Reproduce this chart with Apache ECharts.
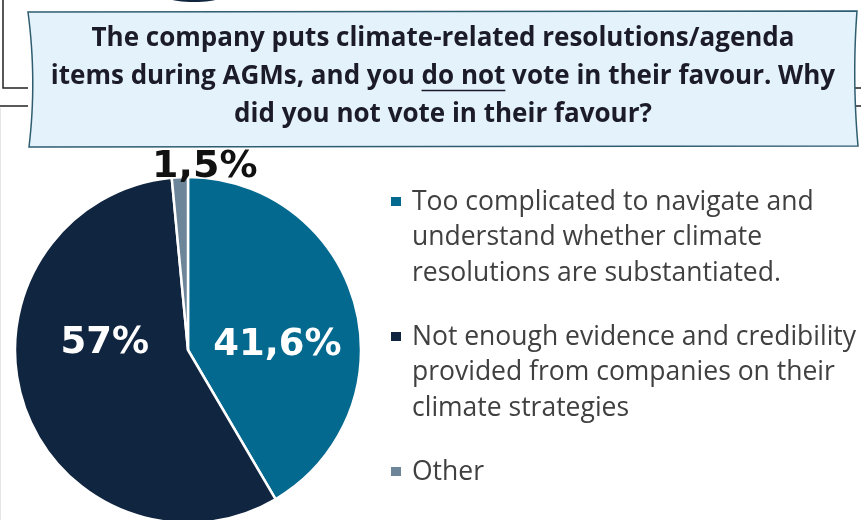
<!DOCTYPE html>
<html>
<head>
<meta charset="utf-8">
<script src="https://cdn.jsdelivr.net/npm/echarts@6/dist/echarts.min.js"></script>
<style>
  html, body { margin: 0; padding: 0; background: #ffffff; }
  #chart { width: 861px; height: 520px; }
</style>
</head>
<body>
<div id="chart"></div>
<script>
// Survey question shown in the banner (line 2 has the underlined "do not")
const questionLines = [
  'The company puts climate-related resolutions/agenda',
  'items during AGMs, and you do not vote in their favour. Why',
  'did you not vote in their favour?'
];
const emphasised = 'do not';

// Answer categories, their shares (%) and the legend wrapping
const categories = [
  'Too complicated to navigate and understand whether climate resolutions are substantiated.',
  'Not enough evidence and credibility provided from companies on their climate strategies',
  'Other'
];
const legendLines = [
  ['Too complicated to navigate and', 'understand whether climate', 'resolutions are substantiated.'],
  ['Not enough evidence and credibility', 'provided from companies on their', 'climate strategies'],
  ['Other']
];
const shares = [41.6, 57, 1.5];
const sliceColors = ['#03698f', '#10253f', '#6d8599'];

// Label placement per slice (inside labels are nudged, the tiny slice sits above the pie)
const labelPlacement = [
  { color: '#ffffff', fontSize: 37, offset: [3, 19] },
  { color: '#ffffff', fontSize: 37, offset: [2, -34] },
  { color: '#111111', fontSize: 38, offset: [21, -93] }
];

const chart = echarts.init(document.getElementById('chart'), null, { renderer: 'canvas' });

const titleFont = 'bold 26px "Open Sans", sans-serif';
const legendFont = '26.5px "Open Sans", sans-serif';
const titleCenterX = 443;
const titleMiddles = [39, 77, 115];

// measure where the emphasised words sit on line 2 to underline them
const ctx = document.createElement('canvas').getContext('2d');
ctx.font = titleFont;
const line2 = questionLines[1];
const line2Width = ctx.measureText(line2).width;
const before = line2.slice(0, line2.indexOf(emphasised));
const ulStart = titleCenterX - line2Width / 2 + ctx.measureText(before).width;
const ulEnd = ulStart + ctx.measureText(emphasised).width;

// points along a quadratic curve, used for the slightly bowed banner sides
function quad(p0, c, p1, n) {
  const pts = [];
  for (let k = 0; k <= n; k++) {
    const t = k / n, u = 1 - t;
    pts.push([u * u * p0[0] + 2 * u * t * c[0] + t * t * p1[0],
              u * u * p0[1] + 2 * u * t * c[1] + t * t * p1[1]]);
  }
  return pts;
}
function ellipsePts(cx, cy, rx, ry, n) {
  const pts = [];
  for (let k = 0; k < n; k++) {
    const a = (k / n) * Math.PI * 2;
    pts.push([cx + rx * Math.cos(a), cy + ry * Math.sin(a)]);
  }
  return pts;
}

const graphics = [];

// frame lines behind the banner
const frameStyle = { stroke: '#222222', lineWidth: 1.5 };
graphics.push(
  { type: 'polyline', shape: { points: [[3, 0], [3, 88], [28, 88]] }, style: frameStyle, silent: true },
  { type: 'line', shape: { x1: 0, y1: 106, x2: 28, y2: 106 }, style: frameStyle, silent: true },
  { type: 'line', shape: { x1: 855, y1: 88, x2: 861, y2: 88 }, style: frameStyle, silent: true },
  { type: 'line', shape: { x1: 855, y1: 106, x2: 861, y2: 106 }, style: frameStyle, silent: true },
  { type: 'line', shape: { x1: 0.5, y1: 108, x2: 0.5, y2: 520 }, style: { stroke: '#e6e6e6', lineWidth: 1 }, silent: true },
  { type: 'polygon', shape: { points: ellipsePts(194, -3, 27, 5, 40) }, style: { fill: '#10253f' }, silent: true }
);

// banner
const bannerPts = [[28, 12], [857, 11]]
  .concat(quad([857, 11], [852, 78], [858, 146], 16).slice(1))
  .concat([[29, 147]])
  .concat(quad([29, 147], [37, 80], [28, 12], 16).slice(1, -1));
graphics.push({
  type: 'polygon',
  shape: { points: bannerPts },
  style: { fill: '#e4f2fc', stroke: '#2e5d70', lineWidth: 1.5 },
  silent: true
});
questionLines.forEach((t, i) => {
  graphics.push({
    type: 'text',
    style: {
      text: t, x: titleCenterX, y: titleMiddles[i],
      font: titleFont, fill: '#1b1b29', align: 'center', verticalAlign: 'middle'
    },
    silent: true
  });
});
graphics.push({
  type: 'line',
  shape: { x1: ulStart, y1: 90.5, x2: ulEnd, y2: 90.5 },
  style: { stroke: '#1b1b29', lineWidth: 1.6 },
  silent: true
});

// legend: square marker aligned with the first line of each wrapped entry
const legendX = 391;
const legendLineHeight = 35.5;
let legendY = 202;
legendLines.forEach((lines, i) => {
  graphics.push({
    type: 'rect',
    shape: { x: legendX, y: legendY - 5, width: 10, height: 9 },
    style: { fill: sliceColors[i] },
    silent: true
  });
  graphics.push({
    type: 'text',
    style: {
      text: lines.join('\n'), x: legendX + 21, y: legendY - legendLineHeight / 2,
      font: legendFont, fill: '#404040', lineHeight: legendLineHeight,
      align: 'left', verticalAlign: 'top'
    },
    silent: true
  });
  legendY += lines.length * legendLineHeight + 28.5;
});

const option = {
  backgroundColor: '#ffffff',
  animation: false,
  graphic: graphics,
  series: [{
    type: 'pie',
    center: [188, 350],
    radius: 173,
    startAngle: 90,
    clockwise: true,
    avoidLabelOverlap: false,
    labelLine: { show: false },
    itemStyle: { borderColor: '#ffffff', borderWidth: 2.5 },
    label: {
      show: true,
      position: 'inside',
      fontFamily: '"DejaVu Sans", sans-serif',
      fontWeight: 'bold',
      formatter: p => String(p.value).replace('.', ',') + '%'
    },
    data: shares.map((v, i) => ({
      name: categories[i],
      value: v,
      itemStyle: { color: sliceColors[i] },
      label: labelPlacement[i]
    }))
  }]
};

chart.setOption(option);
</script>
</body>
</html>
